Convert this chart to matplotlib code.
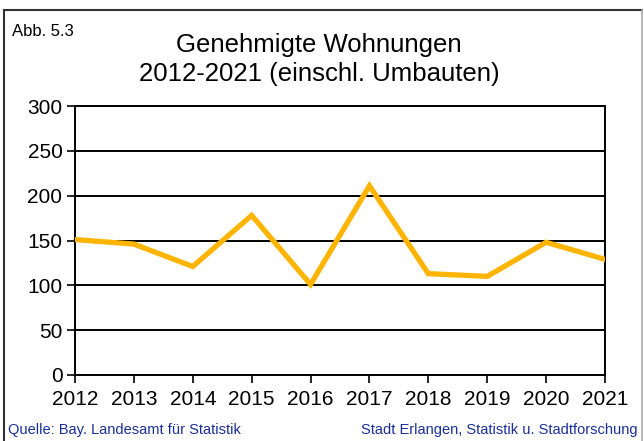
import matplotlib.pyplot as plt
from matplotlib.lines import Line2D

plt.rcParams['font.family'] = ['Liberation Sans', 'DejaVu Sans']

jahre = [2012, 2013, 2014, 2015, 2016, 2017, 2018, 2019, 2020, 2021]
wohnungen = [151, 146, 121, 178, 101, 211, 113, 110, 148, 129]
y_ticks = [0, 50, 100, 150, 200, 250, 300]

fig = plt.figure(figsize=(6.44, 4.41), dpi=100)
W, H = 644, 441

# Rahmen um die Grafik (oben/links dunkel, rechts hellgrau)
top = 1 - 10 / H
fig.lines.append(Line2D([4 / W, 642 / W], [top, top], transform=fig.transFigure,
                        color='#333333', linewidth=1.5))
fig.lines.append(Line2D([4 / W, 4 / W], [0, top], transform=fig.transFigure,
                        color='#333333', linewidth=1.5))
fig.lines.append(Line2D([642 / W, 642 / W], [0, top], transform=fig.transFigure,
                        color='#aaaaaa', linewidth=1.2))

ax = fig.add_axes([75 / W, 1 - 375 / H, 530 / W, 269 / H])
ax.plot(jahre, wohnungen, color='#FFB400', linewidth=3.8, zorder=3,
        solid_joinstyle='miter')
ax.set_xlim(2012, 2021)
ax.set_ylim(0, 300)
ax.set_yticks(y_ticks)
ax.set_xticks(jahre)
ax.yaxis.grid(True, color='black', linewidth=1.4)
for s in ax.spines.values():
    s.set_linewidth(1.4)
ax.tick_params(labelsize=15, length=6, width=1.2, pad=3)
ax.tick_params(axis='x', pad=5)

fig.text(12 / W, 1 - 32 / H, 'Abb. 5.3', fontsize=12, va='center')
fig.text(319 / W, 1 - 45 / H, 'Genehmigte Wohnungen', fontsize=18.5,
         ha='center', va='center')
fig.text(319 / W, 1 - 74 / H, '2012-2021 (einschl. Umbauten)', fontsize=18.5,
         ha='center', va='center')
fig.text(8 / W, 1 - 430 / H, 'Quelle: Bay. Landesamt für Statistik',
         fontsize=10.5, color='#1a2f9a', va='center')
fig.text(638 / W, 1 - 430 / H, 'Stadt Erlangen, Statistik u. Stadtforschung',
         fontsize=10.5, color='#1a2f9a', va='center', ha='right')

fig.savefig('out.png', dpi=100)
